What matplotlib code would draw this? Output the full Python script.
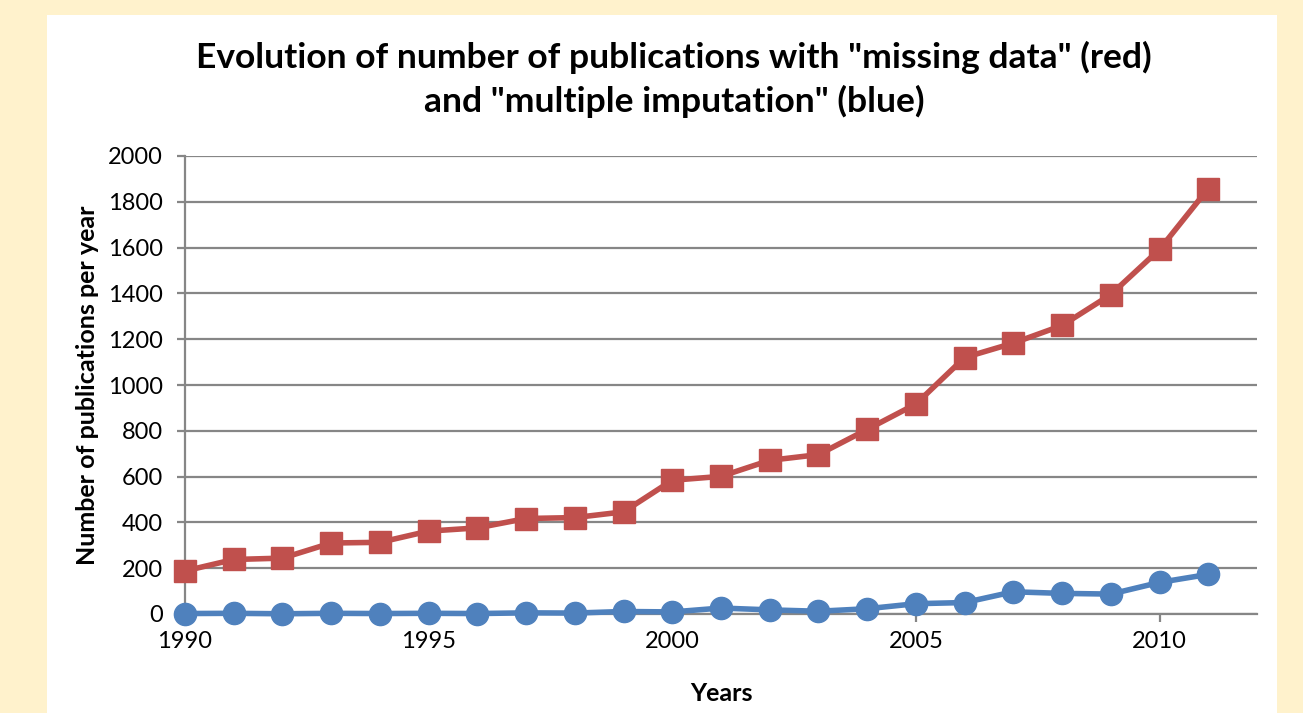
import matplotlib.pyplot as plt
from matplotlib.patches import Rectangle

# data
years = list(range(1990, 2012))
missing_data = [188, 238, 244, 310, 313, 362, 376, 417, 421, 446,
                584, 601, 671, 696, 806, 917, 1120, 1183, 1260, 1395, 1592, 1858]
multiple_imputation = [2, 3, 1, 3, 2, 3, 2, 5, 4, 11,
                       9, 26, 18, 12, 23, 45, 50, 97, 90, 87, 138, 173]
x_ticks = [1990, 1995, 2000, 2005, 2010]
y_ticks = list(range(0, 2001, 200))

plt.rcParams['font.family'] = ['Lato', 'DejaVu Sans']

fig = plt.figure(figsize=(13.03, 7.13), dpi=100)
fig.patch.set_facecolor('#FFF2CC')

# white chart panel behind everything
panel = Rectangle((47 / 1303, 0), (1277 - 47) / 1303, 1 - 15 / 713,
                  transform=fig.transFigure, facecolor='white',
                  edgecolor='none', zorder=-10)
fig.add_artist(panel)

ax = fig.add_axes([185 / 1303, 1 - 614 / 713, (1257 - 185) / 1303, (614 - 156) / 713])
ax.set_zorder(1)
ax.set_facecolor('white')

grid_col = '#868686'
ax.set_xlim(1990, 2012)
ax.set_ylim(0, 2000)
ax.set_xticks(x_ticks)
ax.set_yticks(y_ticks)
ax.yaxis.grid(True, color=grid_col, linewidth=1.6)
ax.set_axisbelow(True)

for side in ['top', 'right']:
    ax.spines[side].set_visible(False)
ax.spines['left'].set_color(grid_col)
ax.spines['bottom'].set_color(grid_col)
ax.spines['left'].set_linewidth(1.6)
ax.spines['bottom'].set_linewidth(1.6)
ax.tick_params(axis='both', colors=grid_col, width=1.6, length=6, labelsize=17,
               labelcolor='black')
ax.tick_params(axis='y', pad=10)
ax.tick_params(axis='x', pad=6)

#plot lines
ax.plot(years, multiple_imputation, color='#4F81BD', linewidth=4,
        marker='o', markersize=16, clip_on=False, zorder=3)
ax.plot(years, missing_data, color='#C0504D', linewidth=4,
        marker='s', markersize=15.5, clip_on=False, zorder=4)

#labels
ax.set_xlabel('Years', fontsize=18, fontweight='bold', labelpad=22)
ax.set_ylabel('Number of publications per year', fontsize=18, fontweight='bold',
              labelpad=6)
fig.text(674 / 1303, 1 - 57 / 713,
         'Evolution of number of publications with "missing data" (red)',
         ha='center', va='center', fontsize=25.5, fontweight='bold')
fig.text(674 / 1303, 1 - 101 / 713,
         'and "multiple imputation" (blue)',
         ha='center', va='center', fontsize=25.5, fontweight='bold')

fig.savefig('out.png', dpi=100, facecolor=fig.get_facecolor())
